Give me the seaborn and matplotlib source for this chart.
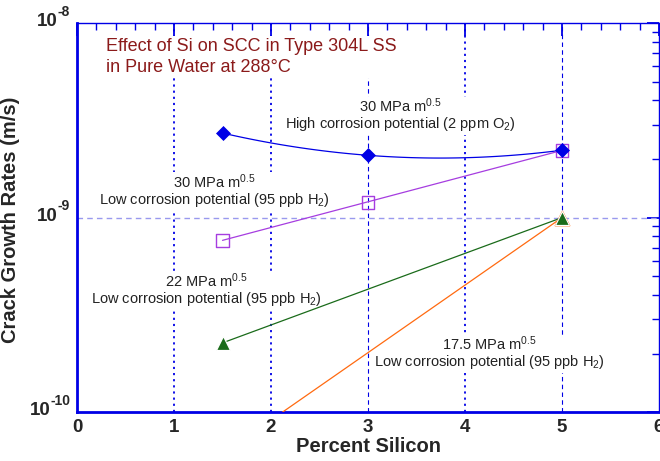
import numpy as np
import pandas as pd
import matplotlib
matplotlib.use("Agg")
import matplotlib.pyplot as plt
import seaborn as sns
from matplotlib.ticker import FixedLocator, LogLocator, NullFormatter, MultipleLocator
from matplotlib.transforms import blended_transform_factory, offset_copy

sns.set_style("white")
plt.rcParams['font.family'] = ['Liberation Sans', 'DejaVu Sans']
plt.rcParams['mathtext.fontset'] = 'custom'
plt.rcParams['mathtext.rm'] = 'Liberation Sans'
plt.rcParams['mathtext.it'] = 'Liberation Sans'
plt.rcParams['mathtext.bf'] = 'Liberation Sans:bold'

# Data
si_high = [1.5, 3.0, 5.0]
cgr_high_30 = [2.72e-9, 2.09e-9, 2.22e-9]
si_low30 = [1.5, 3.0, 5.0]
cgr_low_30 = [7.66e-10, 1.20e-9, 2.22e-9]
si_low22 = [1.5, 5.0]
cgr_low_22 = [2.27e-10, 1.0e-9]
si_low175 = [1.5, 5.0]
cgr_low_175 = [6.1e-11, 1.0e-9]

x_ticks = [0, 1, 2, 3, 4, 5, 6]
y_ticks = [1e-10, 1e-9, 1e-8]
y_tick_exps = ['-10', '-9', '-8']

blue = '#0000E6'
purple = '#A63DE0'
green = '#1A6B1A'
orange = '#FF6A10'
darkred = '#8B1A1A'

fig = plt.figure(figsize=(6.6, 4.61), dpi=100)
ax = fig.add_axes([0.1167, 0.106, 0.8818, 0.844])
ax.set_yscale('log')
ax.set_xlim(0, 6)
ax.set_ylim(1e-10, 1e-8)

# grid lines
for xv in [1, 2, 4]:
    ax.axvline(xv, color=blue, lw=1.3, ls=(0, (1.2, 2.2)), zorder=1)
for xv in [3, 5]:
    ax.axvline(xv, color=blue, lw=0.8, ls=(0, (4, 3)), zorder=1)
ax.axhline(1e-9, color='#9999EE', lw=1.0, ls=(0, (4, 3)), zorder=1)

# High corrosion potential curve (quadratic fit in log space)
coef = np.polyfit(si_high, np.log10(cgr_high_30), 2)
xs = np.linspace(si_high[0], si_high[-1], 100)
fit_df = pd.DataFrame({'x': xs, 'y': 10 ** np.polyval(coef, xs)})
sns.lineplot(data=fit_df, x='x', y='y', ax=ax, color=blue, lw=0.9, zorder=3)

# straight (log-linear) lines
def loglin(xd, yd, xmin, xmax):
    c = np.polyfit(xd, np.log10(yd), 1)
    xx = np.linspace(xmin, xmax, 50)
    return pd.DataFrame({'x': xx, 'y': 10 ** np.polyval(c, xx)})

sns.lineplot(data=loglin(si_low30, cgr_low_30, 1.5, 5.0), x='x', y='y', ax=ax, color=purple, lw=0.9, zorder=3)
sns.lineplot(data=loglin(si_low22, cgr_low_22, 1.5, 5.0), x='x', y='y', ax=ax, color=green, lw=0.9, zorder=3)
sns.lineplot(data=loglin(si_low175, cgr_low_175, 1.5, 5.0), x='x', y='y', ax=ax, color=orange, lw=0.9, zorder=3)

# markers
sns.scatterplot(x=si_low175[-1:], y=cgr_low_175[-1:], ax=ax, marker='^', s=110, color=orange, edgecolor=orange, zorder=4)
sns.scatterplot(x=si_low22, y=cgr_low_22, ax=ax, marker='^', s=100, color=green, edgecolor='white', linewidth=0.8, zorder=5)
sns.scatterplot(x=si_low30, y=cgr_low_30, ax=ax, marker='s', s=85, facecolor='none', edgecolor=purple, linewidth=1.0, zorder=5)
sns.scatterplot(x=si_high, y=cgr_high_30, ax=ax, marker='D', s=50, color=blue, edgecolor=blue, zorder=6)

# ticks
ax.xaxis.set_major_locator(FixedLocator(x_ticks))
ax.xaxis.set_minor_locator(MultipleLocator(0.2))
ax.yaxis.set_major_locator(FixedLocator(y_ticks))
ax.yaxis.set_minor_locator(LogLocator(base=10, subs=np.arange(2, 10) * 1.0, numticks=20))
ax.yaxis.set_minor_formatter(NullFormatter())
ax.set_xticklabels([str(v) for v in x_ticks])
ax.set_yticklabels(['' for _ in y_ticks])
ax.tick_params(axis='both', which='major', direction='in', length=9, width=1.3, color=blue,
               top=True, right=True, labelsize=13.5, pad=5)
ax.tick_params(axis='both', which='minor', direction='in', length=5, width=1.0, color=blue,
               top=True, right=True)
for lab in ax.get_xticklabels():
    lab.set_fontweight('bold')

# y tick labels as bold base + superscript exponent
trans = blended_transform_factory(ax.transAxes, ax.transData)
for val, exp in zip(y_ticks, y_tick_exps):
    base_off = -19.0 if len(exp) == 3 else -13.8
    ax.text(0, val, '10', transform=offset_copy(trans, fig=fig, x=base_off, y=1, units='points'),
            ha='right', va='center', fontsize=13.5, fontweight='bold', clip_on=False)
    ax.text(0, val, exp, transform=offset_copy(trans, fig=fig, x=-5, y=8, units='points'),
            ha='right', va='center', fontsize=10, fontweight='bold', clip_on=False)

for side in ['left', 'bottom']:
    ax.spines[side].set_color(blue)
    ax.spines[side].set_linewidth(2.0)
for side in ['top', 'right']:
    ax.spines[side].set_color(blue)
    ax.spines[side].set_linewidth(1.0)

ax.set_xlabel('Percent Silicon', fontsize=14.5, fontweight='bold', labelpad=1)
ax.set_ylabel('Crack Growth Rates (m/s)', fontsize=14.5, fontweight='bold')
ax.yaxis.set_label_coords(-0.098, 0.494)

# texts
bbox = dict(facecolor='white', edgecolor='none', pad=1.5)
ax.text(0.30, 6.7e-9, 'Effect of Si on SCC in Type 304L SS\nin Pure Water at 288°C',
        color=darkred, fontsize=13, ha='left', va='center', linespacing=1.25, bbox=bbox, zorder=2)
ax.text(3.33, 3.37e-9, '30 MPa m$^{0.5}$\nHigh corrosion potential (2 ppm O$_2$)',
        fontsize=10.5, ha='center', va='center', color='#222222', linespacing=1.0, bbox=bbox, zorder=2)
ax.text(1.42, 1.38e-9, '30 MPa m$^{0.5}$\nLow corrosion potential (95 ppb H$_2$)',
        fontsize=10.5, ha='center', va='center', color='#222222', linespacing=1.0, bbox=bbox, zorder=2)
ax.text(1.33, 4.24e-10, '22 MPa m$^{0.5}$\nLow corrosion potential (95 ppb H$_2$)',
        fontsize=10.5, ha='center', va='center', color='#222222', linespacing=1.0, bbox=bbox, zorder=2)
ax.text(4.25, 2.01e-10, '17.5 MPa m$^{0.5}$\nLow corrosion potential (95 ppb H$_2$)',
        fontsize=10.5, ha='center', va='center', color='#222222', linespacing=1.0, bbox=bbox, zorder=2)

fig.savefig('out.png', dpi=100)
